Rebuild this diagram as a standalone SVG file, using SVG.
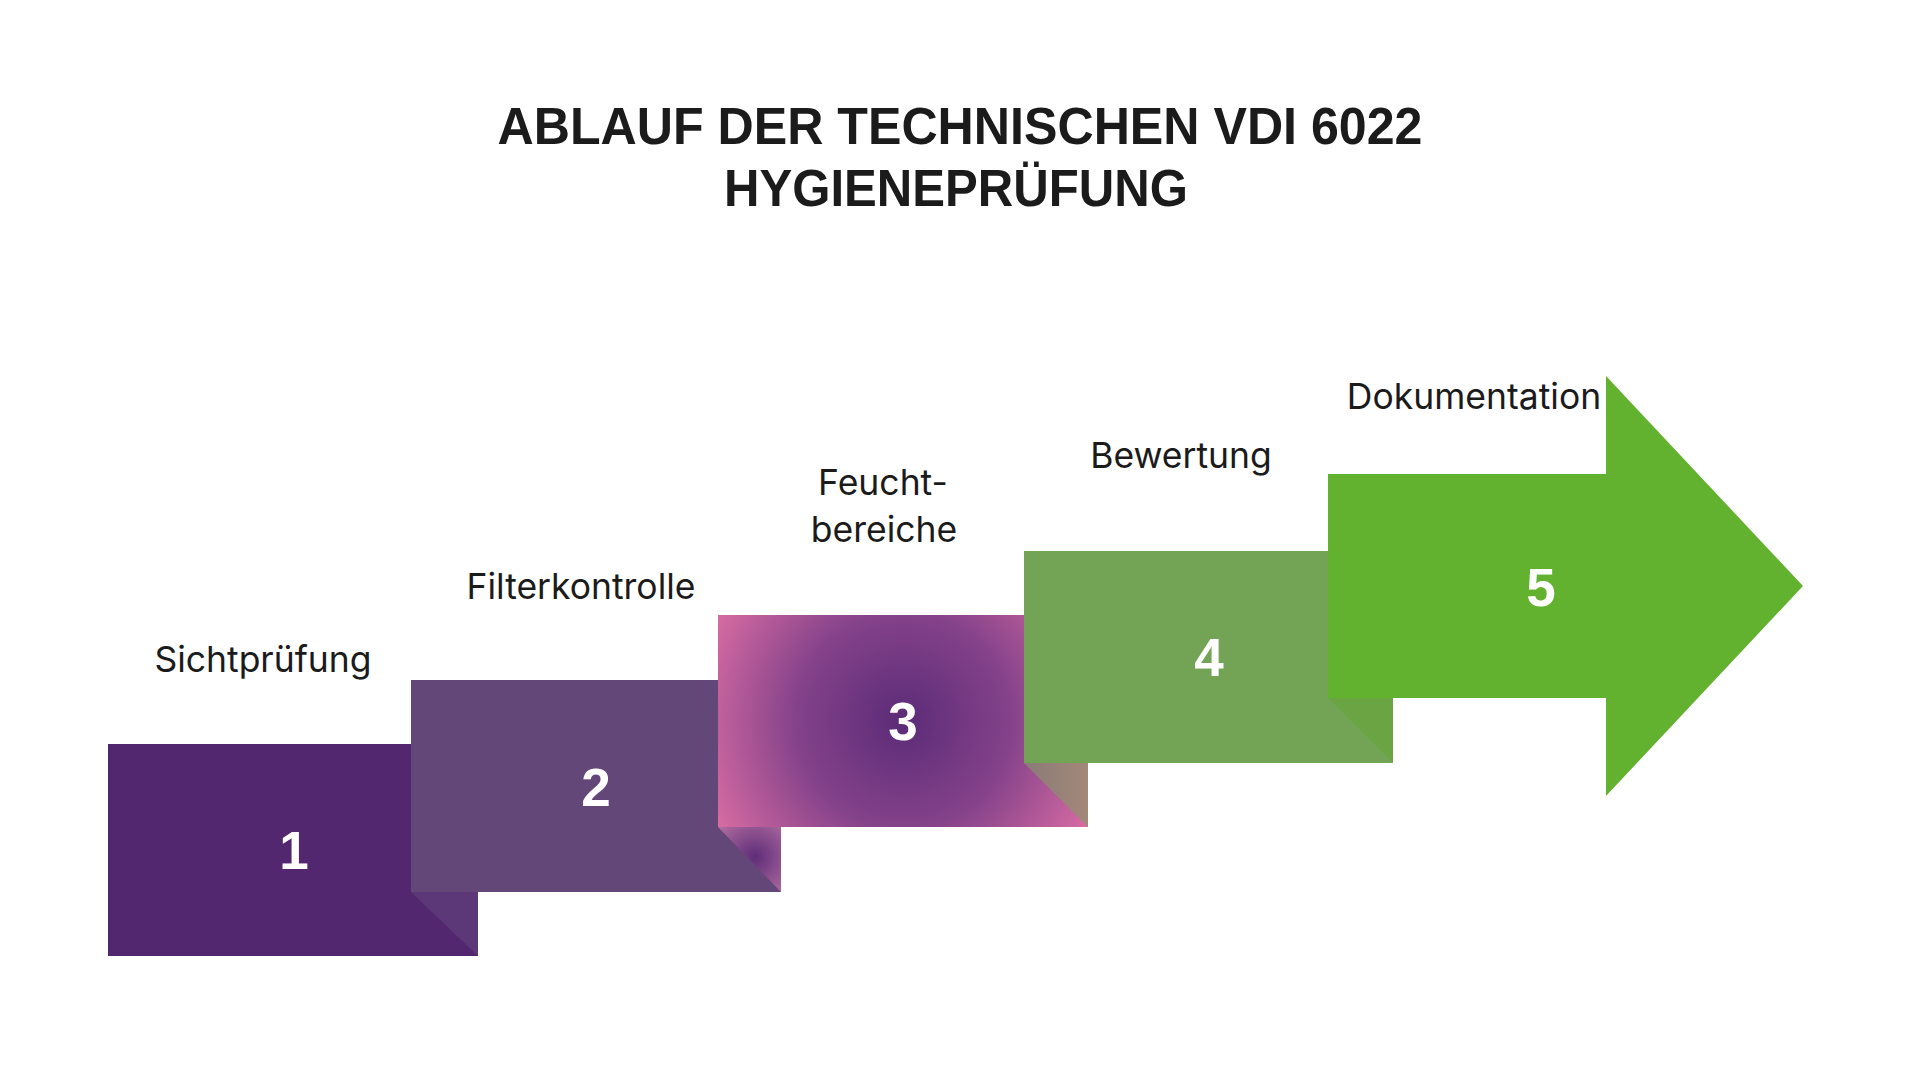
<svg xmlns="http://www.w3.org/2000/svg" width="1920" height="1080" viewBox="0 0 1920 1080">
  <style>
    .title { font-family: "Liberation Sans", Arial, sans-serif; font-weight: 700; font-size: 51px; fill: #1b1b1b; text-anchor: middle; }
    .label { font-family: Inter, "Liberation Sans", sans-serif; font-weight: 400; font-size: 35.5px; fill: #1b1b1b; text-anchor: middle; }
    .num { font-family: "Liberation Sans", Arial, sans-serif; font-weight: 700; font-size: 53px; fill: #ffffff; text-anchor: middle; }
  </style>
  <defs>
    <radialGradient id="g3" gradientUnits="userSpaceOnUse" cx="903" cy="721" r="214">
      <stop offset="0" stop-color="#5b2b77"/>
      <stop offset="0.5" stop-color="#84428a"/>
      <stop offset="1" stop-color="#d86ca3"/>
    </radialGradient>
    <radialGradient id="gf2" gradientUnits="userSpaceOnUse" cx="755" cy="857" r="48">
      <stop offset="0" stop-color="#5e2d78"/>
      <stop offset="1" stop-color="#b56fa2"/>
    </radialGradient>
    <linearGradient id="gf3" gradientUnits="userSpaceOnUse" x1="1024" y1="0" x2="1088" y2="0">
      <stop offset="0" stop-color="#8a7b78"/>
      <stop offset="1" stop-color="#a38878"/>
    </linearGradient>
  </defs>
  <rect width="1920" height="1080" fill="#ffffff"/>

  <g id="title">
    <text class="title" x="960" y="144" textLength="925" lengthAdjust="spacingAndGlyphs">ABLAUF DER TECHNISCHEN VDI 6022</text>
    <text class="title" x="956" y="206" textLength="464" lengthAdjust="spacingAndGlyphs">HYGIENEPRÜFUNG</text>
  </g>

  <g id="connectors"/>

  <g id="step1">
    <rect x="108" y="744" width="370" height="212" fill="#52276f"/>
    <polygon points="411,892 478,892 478,956" fill="#5c3878"/>
    <text class="num" x="294" y="869">1</text>
    <text class="label" x="263" y="672">Sichtprüfung</text>
  </g>

  <g id="step2">
    <rect x="411" y="680" width="370" height="212" fill="#634779"/>
    <polygon points="718,827 781,827 781,892" fill="url(#gf2)"/>
    <text class="num" x="596" y="806">2</text>
    <text class="label" x="581" y="599">Filterkontrolle</text>
  </g>

  <g id="step3">
    <rect x="718" y="615" width="370" height="212" fill="url(#g3)"/>
    <polygon points="1024,763 1088,763 1088,827" fill="url(#gf3)"/>
    <text class="num" x="903" y="740">3</text>
    <text class="label" x="883" y="495">Feucht-</text>
    <text class="label" x="884" y="542">bereiche</text>
  </g>

  <g id="step4">
    <rect x="1024" y="551" width="369" height="212" fill="#73a354"/>
    <polygon points="1328,698 1393,698 1393,763" fill="#6ba543"/>
    <text class="num" x="1209" y="676">4</text>
    <text class="label" x="1181" y="468">Bewertung</text>
  </g>

  <g id="step5">
    <polygon points="1328,474 1606,474 1606,376 1803,586 1606,796 1606,698 1328,698" fill="#63b22f"/>
    <text class="num" x="1541" y="606">5</text>
    <text class="label" x="1474" y="409">Dokumentation</text>
  </g>
</svg>
